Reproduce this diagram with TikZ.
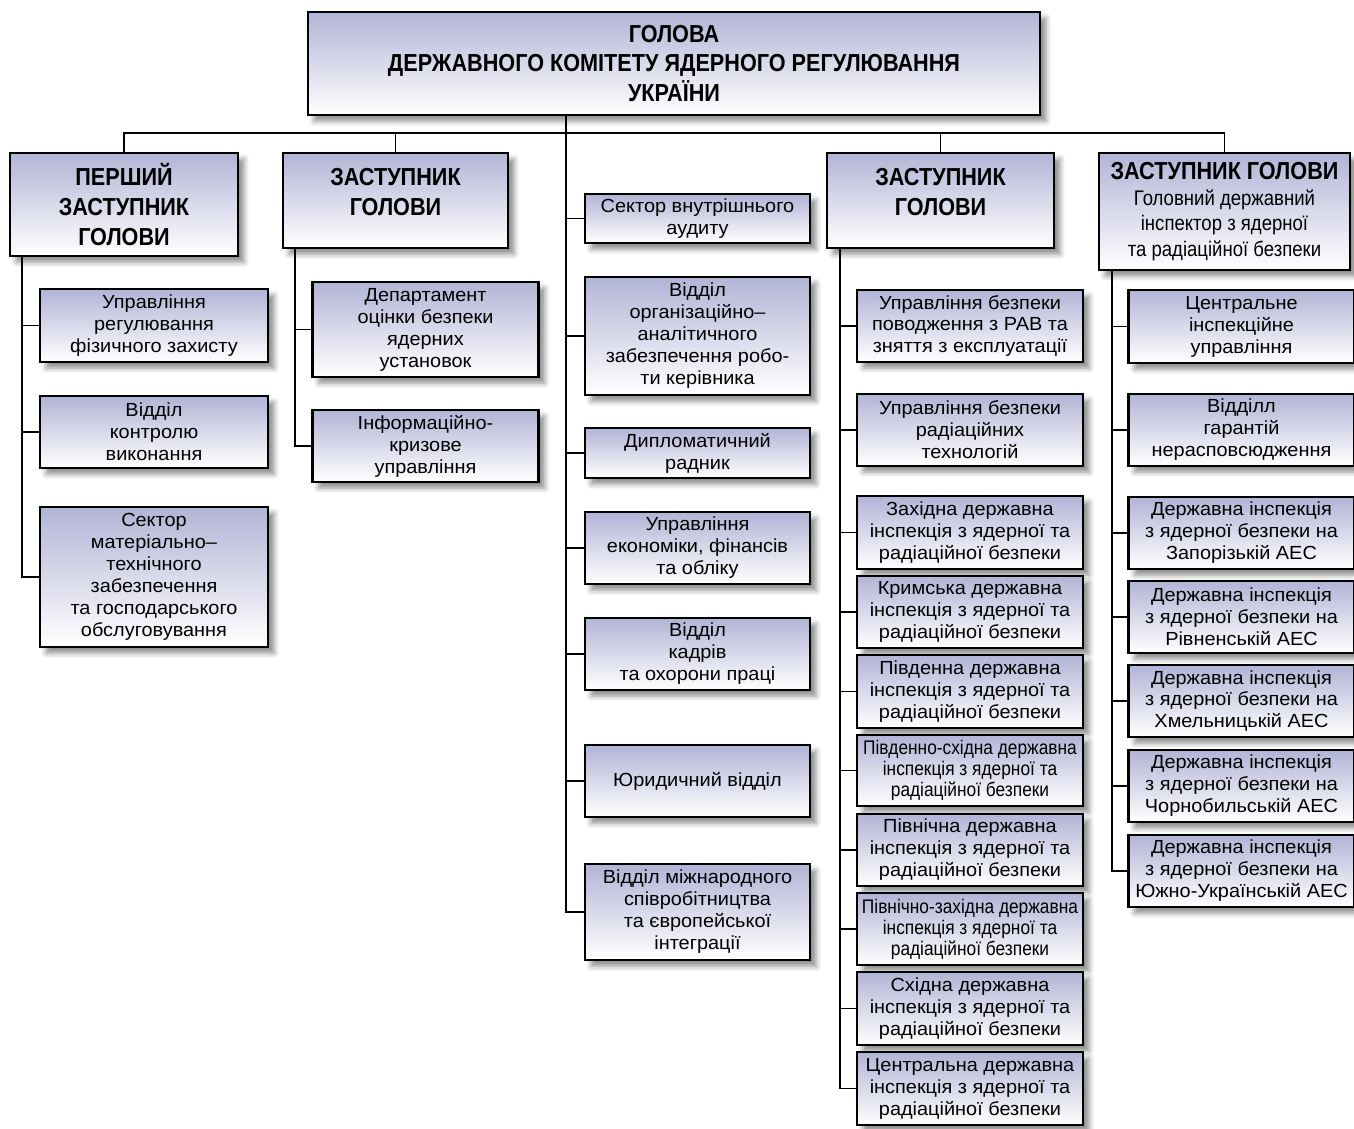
\documentclass[tikz,border=0pt]{standalone}
\usepackage{fontspec}
\setmainfont{Liberation Sans}
\newfontfamily\bodyfont[FakeStretch=1.05]{Liberation Sans}
\newfontfamily\headfont[FakeStretch=0.88]{Liberation Sans}
\usetikzlibrary{shadows.blur}
\definecolor{boxtop}{RGB}{178,180,214}

\begin{document}
\begin{tikzpicture}[
    x=0.02cm, y=-0.02cm,
    box/.style={rectangle, draw=black, line width=1.3pt, top color=boxtop, bottom color=white, align=center, inner sep=1pt, blur shadow={shadow xshift=3.5pt, shadow yshift=-3.5pt, shadow blur radius=3pt, shadow opacity=45}},
    chief/.style={box, font=\headfont\bfseries\fontsize{14}{17}\selectfont},
    unit/.style={box, minimum width=4.52cm, font=\bodyfont\fontsize{10.8}{12.5}\selectfont},
    narrow/.style={unit, font=\headfont\fontsize{11.2}{12}\selectfont},
    link/.style={line width=0.6pt}
]
    \useasboundingbox (0,0) rectangle (1354,1128);

    % Head
    \node (head) [chief, minimum width=14.64cm, minimum height=2.06cm] at (674,63.5) {ГОЛОВА\\ДЕРЖАВНОГО КОМІТЕТУ ЯДЕРНОГО РЕГУЛЮВАННЯ\\УКРАЇНИ};

    % Deputies
    \node (first) [chief, minimum width=4.56cm, minimum height=2.06cm] at (124,204.5) {ПЕРШИЙ\\ЗАСТУПНИК\\ГОЛОВИ};
    \node (deputy) [chief, minimum width=4.5cm, minimum height=1.9cm] at (395.5,200.5) {ЗАСТУПНИК\\ГОЛОВИ\\[-7pt]~};
    \node (deputyb) [chief, minimum width=4.54cm, minimum height=1.9cm] at (940.5,200.5) {ЗАСТУПНИК\\ГОЛОВИ\\[-7pt]~};
    \node (chiefinsp) [chief, minimum width=5.02cm, minimum height=2.34cm] at (1224.5,211.5) {ЗАСТУПНИК ГОЛОВИ\\[-2.5pt]{\mdseries\fontsize{12}{14.5}\selectfont Головний державний}\\[-2.5pt]{\mdseries\fontsize{12}{14.5}\selectfont інспектор з ядерної}\\[-2.5pt]{\mdseries\fontsize{12}{14.5}\selectfont та радіаційної безпеки}};

    % First deputy (left)
    \node (physprot) [unit, minimum width=4.56cm, minimum height=1.46cm] at (154,325.5) {Управління\\регулювання\\фізичного захисту};
    \node (control) [unit, minimum width=4.56cm, minimum height=1.44cm] at (154,432) {Відділ\\контролю\\виконання};
    \node (logistics) [unit, minimum width=4.56cm, minimum height=2.8cm] at (154,577) {Сектор\\матеріально–\\технічного\\забезпечення\\та господарського\\обслуговування};

    % Deputy
    \node (safety) [unit, minimum height=1.9cm] at (425.5,329.5) {Департамент\\оцінки безпеки\\ядерних\\установок};
    \node (crisis) [unit, minimum height=1.44cm] at (425.5,446) {Інформаційно-\\кризове\\управління};

    % Head's units (middle)
    \node (audit) [unit, minimum width=4.5cm, minimum height=0.98cm] at (697.5,218.5) {Сектор внутрішнього\\аудиту};
    \node (orgdept) [unit, minimum width=4.5cm, minimum height=2.36cm] at (697.5,336) {Відділ\\організаційно–\\аналітичного\\забезпечення робо-\\ти керівника};
    \node (diplomat) [unit, minimum width=4.5cm, minimum height=1cm] at (697.5,453) {Дипломатичний\\радник};
    \node (economy) [unit, minimum width=4.5cm, minimum height=1.44cm] at (697.5,548) {Управління\\економіки, фінансів\\та обліку};
    \node (staff) [unit, minimum width=4.5cm, minimum height=1.44cm] at (697.5,654) {Відділ\\кадрів\\та охорони праці};
    \node (legal) [unit, minimum width=4.5cm, minimum height=1.44cm] at (697.5,781) {Юридичний відділ};
    \node (intl) [unit, minimum width=4.5cm, minimum height=1.92cm] at (697.5,912) {Відділ міжнародного\\співробітництва\\та європейської\\інтеграції};

    % Deputy (regional inspections)
    \node (radwaste) [unit, minimum height=1.44cm] at (970,326) {Управління безпеки\\поводження з РАВ та\\зняття з експлуатації};
    \node (radtech) [unit, minimum height=1.44cm] at (970,430) {Управління безпеки\\радіаційних\\технологій};
    \node (west) [unit, minimum height=1.46cm] at (970,532.5) {Західна державна\\інспекція з ядерної та\\радіаційної безпеки};
    \node (crimea) [unit, minimum height=1.44cm] at (970,612) {Кримська державна\\інспекція з ядерної та\\радіаційної безпеки};
    \node (south) [unit, minimum height=1.46cm] at (970,691.5) {Південна державна\\інспекція з ядерної та\\радіаційної безпеки};
    \node (southeast) [narrow, minimum height=1.42cm] at (970,770.5) {Південно-східна державна\\інспекція з ядерної та\\радіаційної безпеки};
    \node (north) [unit, minimum height=1.44cm] at (970,850) {Північна державна\\інспекція з ядерної та\\радіаційної безпеки};
    \node (northwest) [narrow, minimum height=1.44cm] at (970,929) {Північно-західна державна\\інспекція з ядерної та\\радіаційної безпеки};
    \node (east) [unit, minimum height=1.46cm] at (970,1008.5) {Східна державна\\інспекція з ядерної та\\радіаційної безпеки};
    \node (central) [unit, minimum height=1.46cm] at (970,1088.5) {Центральна державна\\інспекція з ядерної та\\радіаційної безпеки};

    % Chief inspector (right)
    \node (centralinsp) [unit, minimum height=1.46cm] at (1241.5,326.5) {Центральне\\інспекційне\\управління};
    \node (nonprolif) [unit, minimum height=1.44cm] at (1241.5,430) {Відділл\\гарантій\\нерасповсюдження};
    \node (zaes) [unit, minimum height=1.44cm] at (1241.5,533) {Державна інспекція\\з ядерної безпеки на\\Запорізькій АЕС};
    \node (raes) [unit, minimum height=1.44cm] at (1241.5,617) {Державна інспекція\\з ядерної безпеки на\\Рівненській АЕС};
    \node (khaes) [unit, minimum height=1.44cm] at (1241.5,701) {Державна інспекція\\з ядерної безпеки на\\Хмельницькій АЕС};
    \node (chaes) [unit, minimum height=1.44cm] at (1241.5,786) {Державна інспекція\\з ядерної безпеки на\\Чорнобильській АЕС};
    \node (suaes) [unit, minimum height=1.44cm] at (1241.5,871) {Державна інспекція\\з ядерної безпеки на\\Южно-Українській АЕС};

    % Lines
    \coordinate (bus) at (566,133);
    \draw[link] (head.south -| bus) |- (intl.west);
    \draw[link] (first.north) |- (bus) -| (chiefinsp.north);
    \draw[link] (deputy.north) |- (bus);
    \draw[link] (deputyb.north) |- (bus);
    \foreach \n in {audit, orgdept, diplomat, economy, staff, legal}
        \draw[link] (bus |- \n.west) -- (\n.west);

    \coordinate (spine1) at (22,0);
    \coordinate (spine2) at (295,0);
    \coordinate (spine4) at (840,0);
    \coordinate (spine5) at (1112,0);

    \draw[link] (spine1 |- first.south) |- (logistics.west);
    \foreach \n in {physprot, control}
        \draw[link] (spine1 |- \n.west) -- (\n.west);

    \draw[link] (spine2 |- deputy.south) |- (crisis.west);
    \draw[link] (spine2 |- safety.west) -- (safety.west);

    \draw[link] (spine4 |- deputyb.south) |- (central.west);
    \foreach \n in {radwaste, radtech, west, crimea, south, southeast, north, northwest, east}
        \draw[link] (spine4 |- \n.west) -- (\n.west);

    \draw[link] (spine5 |- chiefinsp.south) |- (suaes.west);
    \foreach \n in {centralinsp, nonprolif, zaes, raes, khaes, chaes}
        \draw[link] (spine5 |- \n.west) -- (\n.west);

\end{tikzpicture}
\end{document}
